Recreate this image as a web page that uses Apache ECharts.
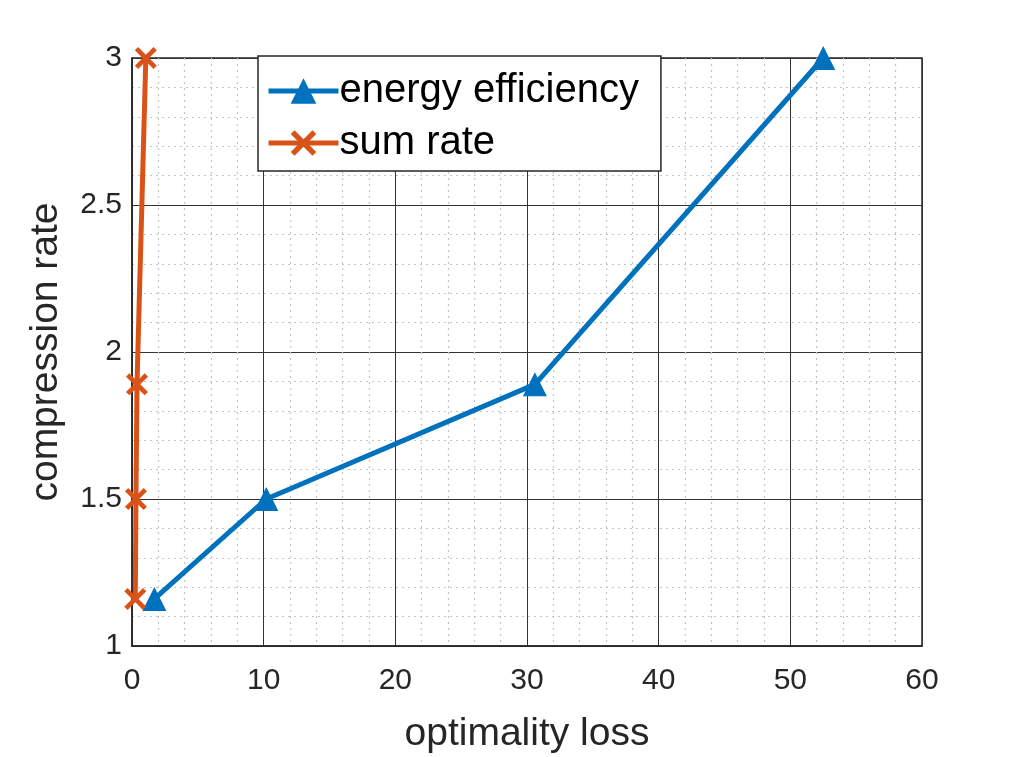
<!DOCTYPE html>
<html>
<head>
<meta charset="utf-8">
<script src="https://cdn.jsdelivr.net/npm/echarts@6/dist/echarts.min.js"></script>
<style>
  html, body { margin: 0; padding: 0; background: #fff; }
  #chart { width: 1021px; height: 757px; }
</style>
</head>
<body>
<div id="chart"></div>
<script>
// data: [optimality loss, compression rate]
const energyEfficiency = [[1.7, 1.16], [10.2, 1.5], [30.6, 1.89], [52.5, 3.0]];
const sumRate = [[0.25, 1.16], [0.3, 1.5], [0.38, 1.89], [1.05, 3.0]];
const seriesNames = ['energy efficiency', 'sum rate'];

const BLUE = '#0072BD';
const ORANGE = '#D95319';
const TEXT = '#262626';
const FONT = '"Liberation Sans", Arial, sans-serif';

// MATLAB style "x" marker, thick arms
const crossPath = 'path://M0,3 L3,0 L10,7 L17,0 L20,3 L13,10 L20,17 L17,20 L10,13 L3,20 L0,17 L7,10 Z';

const chart = echarts.init(document.getElementById('chart'));

const axisCommon = {
  axisLine: { show: true, onZero: false, lineStyle: { color: TEXT, width: 1.5 } },
  axisTick: { show: false },
  splitLine: { show: true, lineStyle: { color: '#333', width: 1 } },
  minorTick: { show: false, splitNumber: 5 },
  minorSplitLine: { show: true, lineStyle: { color: '#c4c4c4', type: [2, 4], width: 1.2 } },
  axisLabel: { color: TEXT, fontSize: 30, fontFamily: FONT },
  nameTextStyle: { color: TEXT, fontSize: 39, fontFamily: FONT },
};

chart.setOption({
  animation: false,
  backgroundColor: '#fff',
  grid: {
    left: 132, right: 99, top: 58, bottom: 111,
    outerBoundsMode: 'none',
    containLabel: false,
    show: true, borderColor: TEXT, borderWidth: 1.5,
  },
  legend: {
    data: seriesNames,
    orient: 'vertical',
    left: 258, top: 56,
    padding: [13, 22, 6, 8],
    itemGap: 8,
    itemWidth: 70, itemHeight: 32,
    backgroundColor: '#fff',
    borderColor: TEXT, borderWidth: 1.5,
    lineStyle: { width: 5 },
    textStyle: { color: '#000', fontSize: 40, lineHeight: 44, fontFamily: FONT, padding: [0, 0, 0, -4] },
  },
  xAxis: Object.assign({}, axisCommon, {
    type: 'value',
    min: 0, max: 60, interval: 10,
    name: 'optimality loss',
    nameLocation: 'middle',
    nameGap: 69,
    axisLabel: Object.assign({}, axisCommon.axisLabel, { margin: 20 }),
  }),
  yAxis: Object.assign({}, axisCommon, {
    type: 'value',
    min: 1, max: 3, interval: 0.5,
    name: 'compression rate',
    nameLocation: 'middle',
    nameGap: 66,
    axisLabel: Object.assign({}, axisCommon.axisLabel, { margin: 10 }),
  }),
  series: [
    {
      name: seriesNames[0],
      type: 'line',
      data: energyEfficiency,
      clip: false,
      symbol: 'triangle',
      symbolSize: 24,
      color: BLUE,
      lineStyle: { width: 5, color: BLUE },
      itemStyle: { color: BLUE },
      z: 3,
    },
    {
      name: seriesNames[1],
      type: 'line',
      data: sumRate,
      clip: false,
      symbol: crossPath,
      symbolSize: 22,
      color: ORANGE,
      lineStyle: { width: 5, color: ORANGE },
      itemStyle: { color: ORANGE },
      z: 3,
    },
  ],
});
</script>
</body>
</html>
